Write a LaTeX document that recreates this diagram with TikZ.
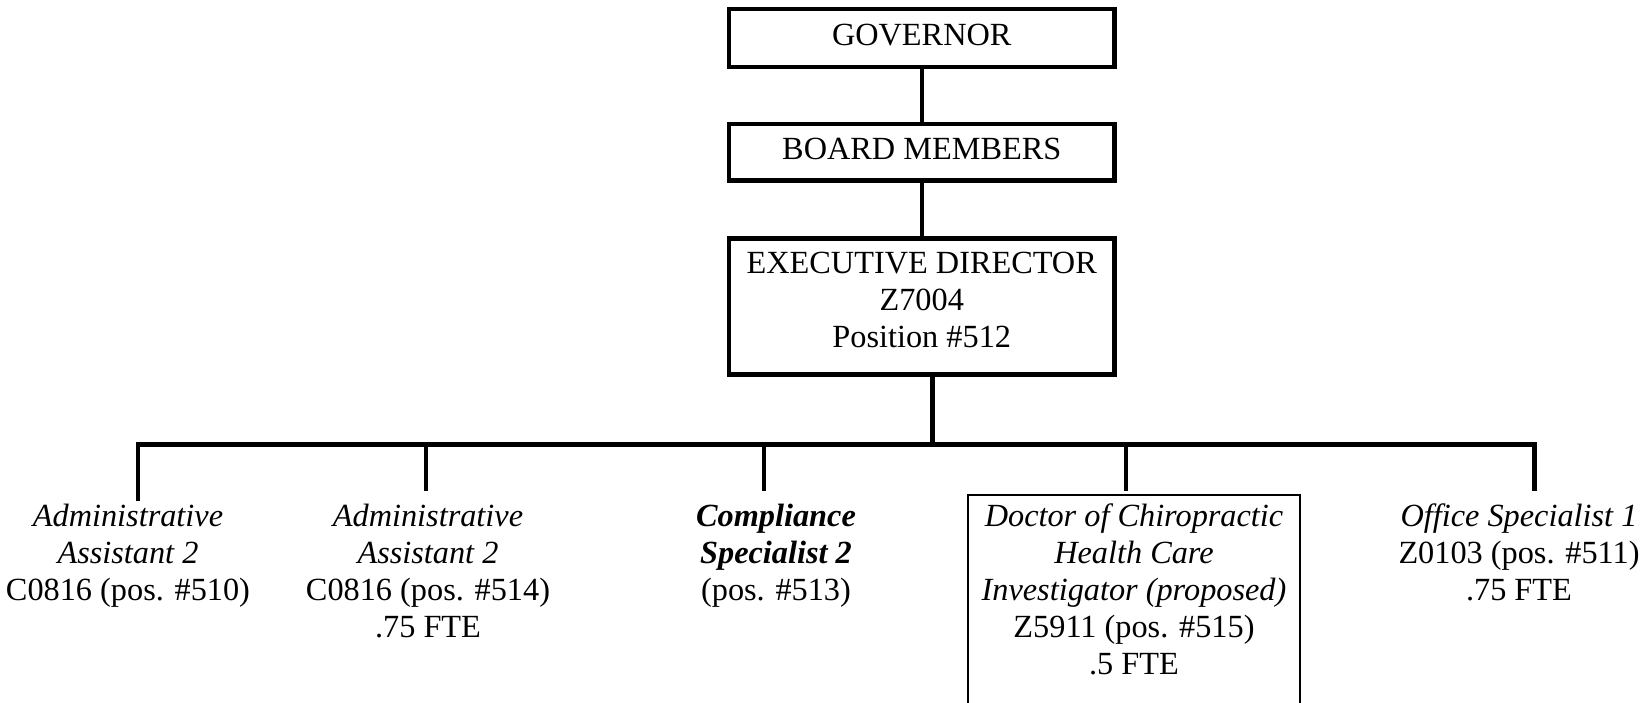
\documentclass[tikz,border=0pt]{standalone}
\usepackage{fontspec}
\setmainfont{Liberation Serif}
\begin{document}
\begin{tikzpicture}[x=1pt,y=-1pt,
  bar/.style={line width=4.5pt, line join=miter},
  boxfont/.style={font=\fontsize{32.3}{37}\selectfont},
  topbox/.style={boxfont, draw, line width=4.5pt, minimum width=385.5pt, inner sep=0pt, outer sep=0pt, align=center},
  role/.style={boxfont, inner sep=0pt, outer sep=0pt, anchor=north, align=center},
  propbox/.style={boxfont, draw, line width=1.5pt, anchor=north, minimum width=332pt, inner sep=0pt, outer sep=0pt, align=center}]
\useasboundingbox (0,0) rectangle (1644,702);
\clip (0,0) rectangle (1644,702);
% top boxes
\node[topbox, minimum height=58pt, text height=21pt, text depth=7pt] (gov) at (921.75,38) {GOVERNOR};
\node[topbox, minimum height=56.5pt, text height=21pt, text depth=7pt] (board) at (921.75,152.25) {BOARD MEMBERS};
\node[topbox, minimum height=136pt] (exec) at (921.75,306.5) {EXECUTIVE DIRECTOR\\ Z7004\\ Position \#512\rule[-14pt]{0pt}{14pt}};
% lower positions
\node[role] (aa1) at (128,500.5) {\rule{0pt}{26pt}\textit{Administrative}\\ \textit{Assistant 2}\\ C0816 (pos. \#510)};
\node[role] (aa2) at (428,500.5) {\rule{0pt}{26pt}\textit{Administrative}\\ \textit{Assistant 2}\\ C0816 (pos. \#514)\\ .75 FTE};
\node[role] (cs) at (776,500.5) {\rule{0pt}{26pt}\textbf{\textit{Compliance}}\\ \textbf{\textit{Specialist 2}}\\ (pos. \#513)};
\node[propbox] (doc) at (1134,495) {\rule{0pt}{31pt}\textit{Doctor of Chiropractic}\\ \textit{Health Care}\\ \textit{Investigator (proposed)}\\ Z5911 (pos. \#515)\\ .5 FTE\rule[-60pt]{0pt}{60pt}};
\node[role] (os) at (1519,500.5) {\rule{0pt}{26pt}\textit{Office Specialist 1}\\ Z0103 (pos. \#511)\\ .75 FTE};
% connector coordinates
\coordinate (bl) at (138,444.5);
\coordinate (br) at (1534.5,444.5);
\coordinate (bx) at (932.5,444.5);
\coordinate (d1) at (138,501);
\coordinate (d2) at (426,491);
\coordinate (d3) at (764,491);
\coordinate (d4) at (1126,491);
\coordinate (d5) at (1534.5,491);
% connectors
\draw[bar] (gov.south) -- (board.north);
\draw[bar] (board.south) -- (exec.north);
\draw[bar] ([xshift=10.75pt]exec.south) -- (bx);
\draw[bar] (d1) -- (bl) -- (br) -- (d5);
\draw[bar] (d2 |- bl) -- (d2);
\draw[bar] (d3 |- bl) -- (d3);
\draw[bar] (d4 |- bl) -- (d4);
\end{tikzpicture}
\end{document}
